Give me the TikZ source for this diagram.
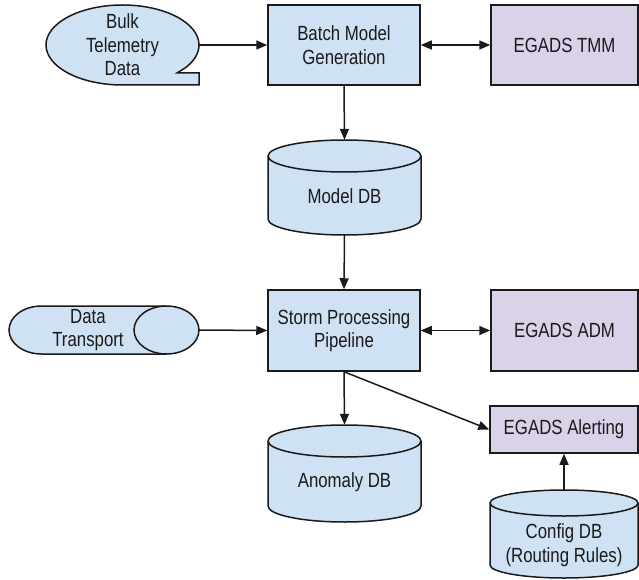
\documentclass[tikz,border=0pt]{standalone}
\usepackage{fontspec}
\setmainfont{Liberation Sans}[FakeStretch=0.82]
\usetikzlibrary{arrows.meta,positioning}
\definecolor{boxblue}{HTML}{CFE2F3}
\definecolor{boxlilac}{HTML}{D9D2E9}
\definecolor{edge}{HTML}{1A1A1A}

\begin{document}
\begin{tikzpicture}[x=1pt,y=1pt,
    lbl/.style={font=\fontsize{20.5}{23.5}\selectfont,text=edge,align=center,inner sep=0pt},
    procbox/.style={lbl,draw=edge,line width=1.5pt,fill=boxblue,minimum width=152pt,minimum height=80pt},
    egadsbox/.style={procbox,fill=boxlilac,minimum width=147pt},
    shapebox/.style={inner sep=0pt},
    shapeline/.style={draw=edge,line width=1.5pt,fill=boxblue},
    arr/.style={line width=1.5pt,draw=edge,-{Triangle[length=11pt,width=9pt]}},
    dbl/.style={line width=1.5pt,draw=edge,{Triangle[length=11pt,width=9pt]}-{Triangle[length=11pt,width=9pt]}}]
  \useasboundingbox (0,0) rectangle (639,579);

  % sources
  \draw[shapeline] (199,494) -- (122.5,494)
    arc[start angle=270,end angle=-35,x radius=76.5,y radius=40]
    -- (177,506) -- (199,506) -- cycle;
  \draw[shapeline] (166.5,273) -- (41.5,273)
    arc[start angle=90,end angle=270,x radius=32.5,y radius=24]
    -- (166.5,225) arc[start angle=270,end angle=450,x radius=32.5,y radius=24] -- cycle;
  \draw[draw=edge,line width=1.5pt] (166.5,273)
    arc[start angle=90,end angle=270,x radius=32.5,y radius=24];

  % databases
  \draw[shapeline] (268,423) -- (268,360)
    arc[start angle=180,end angle=360,x radius=76.5,y radius=16]
    -- (421,423) arc[start angle=0,end angle=180,x radius=76.5,y radius=16] -- cycle;
  \draw[draw=edge,line width=1.5pt] (268,423)
    arc[start angle=180,end angle=360,x radius=76.5,y radius=16];
  \draw[shapeline] (268,138) -- (268,73)
    arc[start angle=180,end angle=360,x radius=76.5,y radius=16]
    -- (421,138) arc[start angle=0,end angle=180,x radius=76.5,y radius=16] -- cycle;
  \draw[draw=edge,line width=1.5pt] (268,138)
    arc[start angle=180,end angle=360,x radius=76.5,y radius=16];
  \draw[shapeline] (490,76) -- (490,14)
    arc[start angle=180,end angle=360,x radius=74,y radius=13]
    -- (638,76) arc[start angle=0,end angle=180,x radius=74,y radius=13] -- cycle;
  \draw[draw=edge,line width=1.5pt] (490,76)
    arc[start angle=180,end angle=360,x radius=74,y radius=13];

  % nodes
  \node[lbl,minimum width=153pt,minimum height=80pt] (bulk) at (122.5,534) {Bulk\\Telemetry\\Data};
  \node[procbox] (batch) at (344,534) {Batch Model\\Generation};
  \node[egadsbox] (tmm) at (564.5,534) {EGADS TMM};
  \node[shapebox,minimum width=153pt,minimum height=95pt] (modeldb) at (344.5,391.5) {};
  \node[lbl] at ([yshift=-9pt]modeldb.center) {Model DB};
  \node[shapebox,minimum width=190pt,minimum height=48pt] (transport) at (104,249) {};
  \node[lbl] at ([xshift=-16pt]transport.center) {Data\\Transport};
  \node[procbox,minimum height=81pt] (storm) at (344,248.5) {Storm Processing\\Pipeline};
  \node[egadsbox,minimum height=81pt] (adm) at (564.5,248.5) {EGADS ADM};
  \node[egadsbox,minimum width=148pt,minimum height=47pt] (alert) at (564,149.5) {EGADS Alerting};
  \node[shapebox,minimum width=153pt,minimum height=97pt] (anomalydb) at (344.5,105.5) {};
  \node[lbl] at ([yshift=-9pt]anomalydb.center) {Anomaly DB};
  \node[shapebox,minimum width=148pt,minimum height=88pt] (configdb) at (564,45) {};
  \node[lbl] at ([yshift=-11pt]configdb.center) {Config DB\\(Routing Rules)};

  % connectors
  \draw[arr] (bulk.east) -- (batch.west);
  \draw[dbl] (batch.east) -- (tmm.west);
  \draw[arr] (batch.south) -- (modeldb.north);
  \draw[arr] (modeldb.south) -- (storm.north);
  \draw[arr] (transport.east) -- (storm.west);
  \draw[dbl] (storm.east) -- (adm.west);
  \draw[arr] (storm.south) -- (anomalydb.north);
  \draw[arr] (storm.south) -- (alert.west);
  \draw[arr] (configdb.north) -- (alert.south);
\end{tikzpicture}
\end{document}
